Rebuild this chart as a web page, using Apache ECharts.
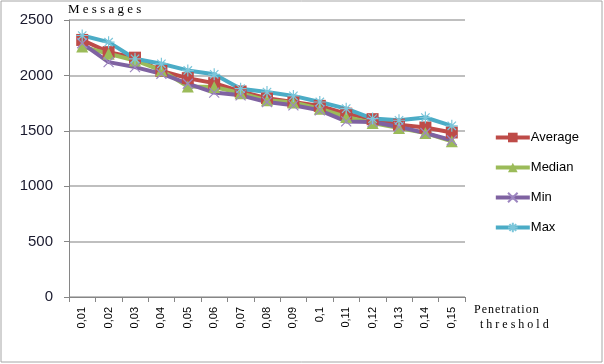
<!DOCTYPE html>
<html>
<head>
<meta charset="utf-8">
<script src="https://cdn.jsdelivr.net/npm/echarts@6/dist/echarts.min.js"></script>
<style>
  html, body { margin: 0; padding: 0; background: #fff; }
  #chart { width: 604px; height: 364px; }
</style>
</head>
<body>
<div id="chart"></div>
<script>
// 横轴刻度（原图用逗号作小数点）
const thresholds = ['0,01', '0,02', '0,03', '0,04', '0,05', '0,06', '0,07', '0,08',
  '0,09', '0,1', '0,11', '0,12', '0,13', '0,14', '0,15'];
const yTicks = [0, 500, 1000, 1500, 2000, 2500];

// 各序列数值
const average = [2320, 2210, 2160, 2040, 1975, 1930, 1855, 1795, 1760, 1725, 1655, 1605, 1555, 1530, 1485];
const median = [2260, 2195, 2135, 2045, 1900, 1895, 1840, 1775, 1755, 1700, 1625, 1570, 1525, 1480, 1405];
const minVals = [2290, 2120, 2075, 2015, 1925, 1845, 1820, 1760, 1730, 1685, 1585, 1580, 1535, 1480, 1415];
const maxVals = [2360, 2300, 2150, 2105, 2045, 2010, 1880, 1850, 1815, 1760, 1700, 1610, 1595, 1620, 1545];

const chart = echarts.init(document.getElementById('chart'));

// 叉形 / 星形标记
const crossPath = 'path://M0,0 L10,10 M10,0 L0,10';
const starPath = 'path://M5,0 L5,10 M0,5 L10,5 M1.5,1.5 L8.5,8.5 M8.5,1.5 L1.5,8.5';

function makeSeries(name, data, color, symbol, size, strokeOnly, symbolColor) {
  return {
    name: name,
    type: 'line',
    data: data,
    symbol: symbol,
    symbolSize: size,
    showSymbol: true,
    lineStyle: { color: color, width: 4 },
    itemStyle: strokeOnly
      ? { color: 'rgba(0,0,0,0)', borderColor: symbolColor || color, borderWidth: 1.2 }
      : { color: color, borderColor: color, borderWidth: 0 },
    emphasis: { disabled: true },
  };
}

chart.setOption({
  animation: false,
  textStyle: { fontFamily: 'Liberation Sans' },
  grid: { left: 69, top: 20, right: 139, bottom: 67, containLabel: false },
  legend: {
    orient: 'vertical',
    right: 20,
    top: 126,
    itemWidth: 34,
    itemHeight: 12,
    itemGap: 17,
    lineStyle: { width: 4 },
    textStyle: { fontSize: 13, color: '#000', padding: [0, 0, 0, -4] },
    data: ['Average', 'Median', 'Min', 'Max'],
  },
  xAxis: {
    type: 'category',
    data: thresholds,
    boundaryGap: true,
    axisLine: { lineStyle: { color: '#868686', width: 1 } },
    axisTick: { show: true, length: 5, lineStyle: { color: '#868686' } },
    axisLabel: { rotate: 90, fontSize: 11, color: '#000', margin: 10, interval: 0 },
    splitLine: { show: false },
  },
  yAxis: {
    type: 'value',
    min: yTicks[0],
    max: yTicks[yTicks.length - 1],
    interval: 500,
    axisLine: { show: true, lineStyle: { color: '#868686', width: 1 } },
    axisTick: { show: true, length: 5, inside: false, lineStyle: { color: '#868686' } },
    axisLabel: { fontSize: 15, color: '#1a1a2e', margin: 16, formatter: (v) => String(v) },
    splitLine: { lineStyle: { color: '#BFBFBF', width: 2 } },
  },
  graphic: [
    {
      type: 'rect',
      shape: { x: 1, y: 1, width: 601, height: 361 },
      style: { fill: 'none', stroke: '#A6A6A6', lineWidth: 1 },
      silent: true,
    },
    {
      type: 'text',
      left: 68,
      top: 3,
      style: { text: 'M e s s a g e s', font: '13px "Liberation Serif"', fill: '#000' },
    },
    {
      type: 'text',
      left: 474,
      top: 304,
      style: {
        text: 'P\u200ae\u200an\u200ae\u200at\u200ar\u200aa\u200at\u200ai\u200ao\u200an',
        font: '12px "Liberation Serif"',
        fill: '#000',
      },
    },
    {
      type: 'text',
      left: 480,
      top: 319,
      style: { text: 't h r e s h o l d', font: '12px "Liberation Serif"', fill: '#000' },
    },
  ],
  series: [
    makeSeries('Average', average, '#BE4B48', 'rect', 12, false),
    makeSeries('Median', median, '#9BBB59', 'triangle', 12, false),
    makeSeries('Min', minVals, '#7F62A1', crossPath, 10, true, '#9D86C0'),
    makeSeries('Max', maxVals, '#4BACC6', starPath, 12, true, '#7CC6DA'),
  ],
});
</script>
</body>
</html>
